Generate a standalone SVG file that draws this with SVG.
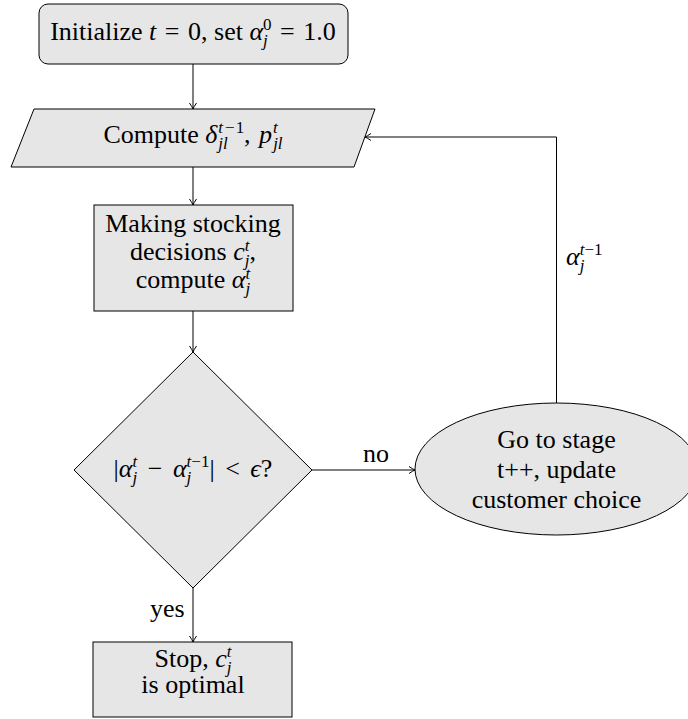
<svg xmlns="http://www.w3.org/2000/svg" width="688" height="719" viewBox="0 0 688 719">
  <style>
    .node { fill: #e6e6e6; stroke: #000; stroke-width: 1; }
    .edge { fill: none; stroke: #000; stroke-width: 1; }
    text { font-family: "Liberation Serif", "DejaVu Serif", serif; font-size: 26px; fill: #000; }
    .c { text-anchor: middle; }
    .i { font-style: italic; }
    .s { font-size: 17px; }
  </style>
  <defs>
    <marker id="arrow" viewBox="-8 -5 10 10" refX="0" refY="0" markerWidth="10" markerHeight="10" markerUnits="userSpaceOnUse" orient="auto">
      <path d="M-6,-3.5 Q-2,-0.8 0,0 Q-2,0.8 -6,3.5" fill="none" stroke="#000" stroke-width="1"/>
    </marker>
  </defs>

  <!-- connectors -->
  <g id="edges">
    <line class="edge" x1="193" y1="64" x2="193" y2="109" marker-end="url(#arrow)"/>
    <line class="edge" x1="193" y1="167" x2="193" y2="205" marker-end="url(#arrow)"/>
    <line class="edge" x1="193" y1="311" x2="193" y2="352" marker-end="url(#arrow)"/>
    <line class="edge" x1="312" y1="470" x2="415" y2="470" marker-end="url(#arrow)"/>
    <line class="edge" x1="193" y1="588" x2="193" y2="642" marker-end="url(#arrow)"/>
    <polyline class="edge" points="556.5,403 556.5,137 365,137" marker-end="url(#arrow)"/>
    <text x="363" y="462">no</text>
    <text x="150" y="617">yes</text>
    <text x="566" y="265"><tspan class="i">α</tspan><tspan class="s" dy="-10"><tspan class="i">t</tspan>−1</tspan><tspan class="s i" dx="-22.8" dy="16">j</tspan></text>
  </g>

  <!-- start -->
  <g id="init">
    <rect class="node" x="39" y="4" width="309" height="60" rx="9"/>
    <text class="c" x="193" y="40">Initialize <tspan class="i">t</tspan><tspan dx="2"> = </tspan><tspan dx="2">0, set </tspan><tspan class="i">α</tspan><tspan class="s" dy="-10">0</tspan><tspan class="s i" dx="-8.5" dy="16">j</tspan><tspan dx="5.8" dy="-6"> = </tspan><tspan dx="2">1.0</tspan></text>
  </g>

  <!-- input / compute -->
  <g id="compute">
    <polygon class="node" points="34,109 375,109 354,167 11,167"/>
    <text class="c" x="193" y="143">Compute <tspan class="i">δ</tspan><tspan class="s" dx="1" dy="-10"><tspan class="i">t</tspan><tspan dx="2">−</tspan><tspan dx="1">1</tspan></tspan><tspan class="s i" dx="-25.8" dy="16">jl</tspan><tspan dx="16.3" dy="-6">, </tspan><tspan class="i" dx="2">p</tspan><tspan class="s i" dx="1" dy="-10">t</tspan><tspan class="s i" dx="-4.7" dy="16">jl</tspan></text>
  </g>

  <!-- stocking decisions -->
  <g id="decide">
    <rect class="node" x="94" y="205" width="199" height="106"/>
    <text class="c" x="193" y="232">Making stocking</text>
    <text class="c" x="193" y="260">decisions <tspan class="i">c</tspan><tspan class="s i" dy="-9">t</tspan><tspan class="s i" dx="-4.7" dy="15">j</tspan><tspan dy="-6">,</tspan></text>
    <text class="c" x="193" y="288">compute <tspan class="i">α</tspan><tspan class="s i" dy="-9">t</tspan><tspan class="s i" dx="-4.7" dy="15">j</tspan></text>
  </g>

  <!-- convergence test -->
  <g id="test">
    <polygon class="node" points="193,352 312,470 193,588 74,470"/>
    <text class="c" x="193" y="477">|<tspan class="i">α</tspan><tspan class="s i" dy="-10">t</tspan><tspan class="s i" dx="-4.7" dy="16">j</tspan><tspan dx="4" dy="-6"> − </tspan><tspan class="i" dx="4">α</tspan><tspan class="s" dy="-10"><tspan class="i">t</tspan>−1</tspan><tspan class="s i" dx="-22.8" dy="16">j</tspan><tspan dx="18.1" dy="-6">|</tspan><tspan dx="4"> &lt; </tspan><tspan class="i" dx="4">ϵ</tspan>?</text>
  </g>

  <!-- next stage -->
  <g id="update">
    <ellipse class="node" cx="556.5" cy="469" rx="141.5" ry="66"/>
    <text class="c" x="556.5" y="448">Go to stage</text>
    <text class="c" x="556.5" y="478">t++, update</text>
    <text class="c" x="556.5" y="508">customer choice</text>
  </g>

  <!-- stop -->
  <g id="stop">
    <rect class="node" x="93" y="642" width="199" height="75"/>
    <text class="c" x="193" y="667">Stop, <tspan class="i">c</tspan><tspan class="s i" dy="-10">t</tspan><tspan class="s i" dx="-4.7" dy="16">j</tspan></text>
    <text class="c" x="193" y="693">is optimal</text>
  </g>
</svg>
